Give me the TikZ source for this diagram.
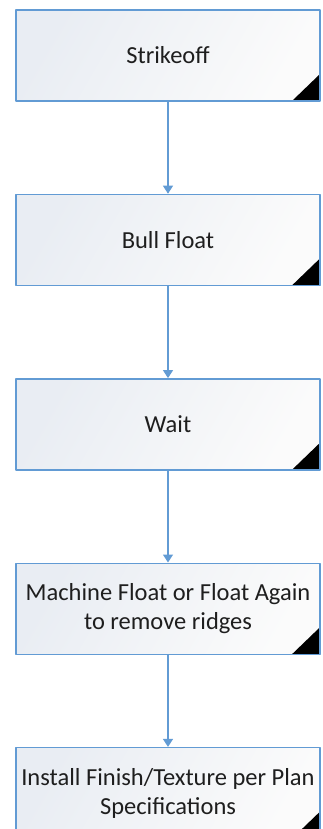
\documentclass[tikz,border=0pt]{standalone}
\usepackage{fontspec}
\setmainfont{Carlito}
\usetikzlibrary{positioning,arrows.meta}
\definecolor{stepblue}{RGB}{98,155,212}
\definecolor{steptext}{RGB}{30,30,30}
\definecolor{stepshade}{RGB}{233,237,243}
\begin{document}
\begin{tikzpicture}[x=1pt, y=1pt, font=\fontsize{24.5}{29}\selectfont, line join=round, >={Triangle[width=10pt,length=8pt]},
	stepbox/.style={draw=stepblue, line width=1.4pt, minimum width=304pt, minimum height=91pt, inner sep=1pt, align=center, text=steptext,
		left color=stepshade, right color=white!97!gray, shading angle=60,
		path picture={\fill[black] ([xshift=-28pt]path picture bounding box.south east) -- (path picture bounding box.south east) -- ([yshift=27pt]path picture bounding box.south east) -- cycle;}}]
	\clip (0,0) rectangle (322,-829);
	\node[stepbox] (S1) at (168,-55.5) {Strikeoff};
	\node[stepbox, below=92pt of S1] (S2) {Bull Float};
	\node[stepbox, below=92pt of S2] (S3) {Wait};
	\node[stepbox, below=92pt of S3] (S4) {Machine Float or Float Again\\to remove ridges};
	\node[stepbox, below=92pt of S4] (S5) {Install Finish/Texture per Plan\\Specifications};
	\foreach \a/\b in {S1/S2,S2/S3,S3/S4,S4/S5}
	\draw[->, stepblue, line width=1.2pt] (\a) -- (\b);
\end{tikzpicture}
\end{document}
